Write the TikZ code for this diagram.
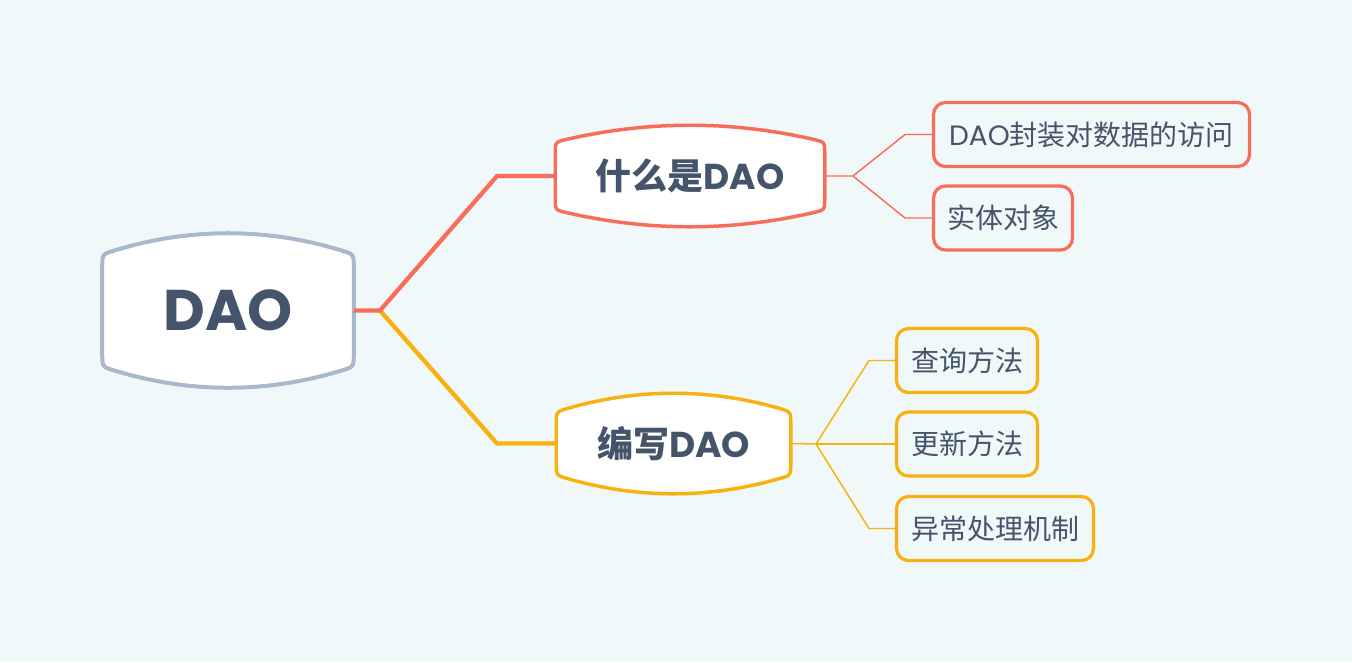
\documentclass[tikz,border=0pt]{standalone}
\usepackage{fontspec}
\newfontfamily\cjk{Noto Sans CJK SC}
\newfontfamily\pop{Poppins}
\usetikzlibrary{calc}
\definecolor{bgc}{HTML}{F0F8FA}
\definecolor{txt}{HTML}{44546A}
\definecolor{rootc}{HTML}{A9B9CB}
\definecolor{redc}{HTML}{FA6C5A}
\definecolor{orc}{HTML}{F9B110}
\pgfdeclarelayer{bgl}
\pgfdeclarelayer{shapes}
\pgfsetlayers{bgl,shapes,main}
\newcommand\bulgeshape[5]{% name, W, b, r, style
 \pgfmathsetmacro\bS{4*#3/(#2-2*#4)}%
 \pgfmathsetmacro\bU{(#2-2*#4)/3}%
 \pgfmathsetmacro\bA{#3+\bS*#4}%
 \pgfmathsetmacro\bB{\bA+#4}%
 \pgfmathsetmacro\bT{#3/3}%
 \pgfmathsetmacro\bRU{#4+\bU}%
 \begin{pgfonlayer}{shapes}
 \draw[#5] ($(#1.north west)+(0,\bB)$) -- ($(#1.south west)+(0,-\bB)$)
   .. controls ($(#1.south west)+(0,-\bA)$) .. ($(#1.south west)+(#4,-#3)$)
   .. controls ($(#1.south west)+(\bRU,\bT)$) and ($(#1.south east)+(-\bRU,\bT)$) .. ($(#1.south east)+(-#4,-#3)$)
   .. controls ($(#1.south east)+(0,-\bA)$) .. ($(#1.south east)+(0,-\bB)$)
   -- ($(#1.north east)+(0,\bB)$)
   .. controls ($(#1.north east)+(0,\bA)$) .. ($(#1.north east)+(-#4,#3)$)
   .. controls ($(#1.north east)+(-\bRU,-\bT)$) and ($(#1.north west)+(\bRU,-\bT)$) .. ($(#1.north west)+(#4,#3)$)
   .. controls ($(#1.north west)+(0,\bA)$) .. ($(#1.north west)+(0,\bB)$) -- cycle;
 \end{pgfonlayer}}
\begin{document}
\begin{tikzpicture}[x=0.75pt,y=-0.75pt,
  hub/.style={inner sep=0pt, text=txt},
  leaf/.style={draw, line width=2.4pt, rounded corners=9pt, fill=bgc, inner sep=0pt,
    minimum height=64*0.75pt, text=txt, font=\cjk\fontsize{21}{25}\selectfont},
  thickline/.style={line width=3.2pt},
  thinline/.style={line width=1.1pt}]
\begin{pgfonlayer}{bgl}
\useasboundingbox[fill=bgc] (0,0) rectangle (1352,662);
\end{pgfonlayer}
% hubs
\node[hub, minimum width=251*0.75pt, minimum height=154*0.75pt,
  font=\pop\bfseries\fontsize{43}{50}\selectfont] (root) at (228,310.5) {DAO};
\node[hub, minimum width=269*0.75pt, minimum height=101*0.75pt,
  font=\fontsize{27}{32}\selectfont] (b1) at (690,176) {{\cjk\bfseries 什么是}{\pop\bfseries DAO}};
\node[hub, minimum width=234*0.75pt, minimum height=100*0.75pt,
  font=\fontsize{27}{32}\selectfont] (b2) at (673.5,443.5) {{\cjk\bfseries 编写}{\pop\bfseries DAO}};
\bulgeshape{root}{251}{17}{13}{draw=rootc, line width=3pt, fill=white}
\bulgeshape{b1}{269}{14}{12}{draw=redc, line width=2.6pt, fill=white}
\bulgeshape{b2}{234}{15}{12}{draw=orc, line width=2.6pt, fill=white}
% leaves
\node[leaf, draw=redc, minimum width=316*0.75pt] (l1) at (1091.5,134.5) {{\pop DAO}封装对数据的访问};
\node[leaf, draw=redc, minimum width=139*0.75pt] (l2) at (1003,218) {实体对象};
\node[leaf, draw=orc, minimum width=141*0.75pt] (l3) at (967,360.5) {查询方法};
\node[leaf, draw=orc, minimum width=141*0.75pt] (l4) at (967,444) {更新方法};
\node[leaf, draw=orc, minimum width=197*0.75pt] (l5) at (995,528.5) {异常处理机制};
% junctions
\coordinate (j0) at (380,310.5);
\coordinate (j1) at (497,176);
\coordinate (j2) at (497,443.5);
\coordinate (k1) at (853,176);
\coordinate (k1a) at (905,134.5);
\coordinate (k1b) at (905,218);
\coordinate (k2) at (816,444);
\coordinate (k2a) at (869,360.5);
\coordinate (k2c) at (869,528.5);
% connectors
\draw[thickline, orc] (j0) -- (j2) -- (b2.west);
\draw[thickline, redc] (root.east) -- (j0) -- (j1) -- (b1.west);
\draw[thinline, redc] (b1.east) -- (k1) -- (k1a) -- (l1.west);
\draw[thinline, redc] (k1) -- (k1b) -- (l2.west);
\draw[thinline, orc] (b2.east) -- (k2) -- (k2a) -- (l3.west);
\draw[thinline, orc] (k2) -- (l4.west);
\draw[thinline, orc] (k2) -- (k2c) -- (l5.west);
\end{tikzpicture}
\end{document}
